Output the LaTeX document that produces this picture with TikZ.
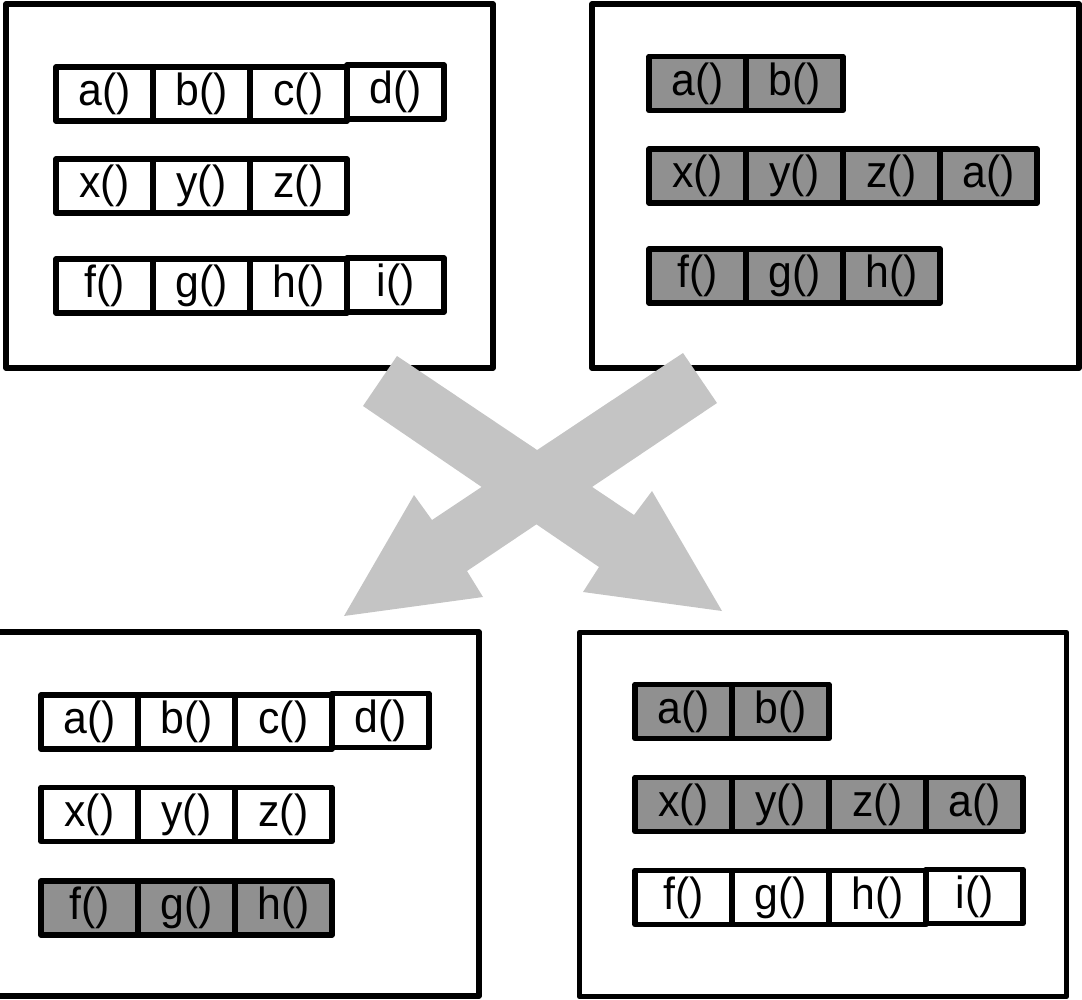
\documentclass[tikz,border=0pt]{standalone}
\usepackage{fontspec}
\setmainfont{Liberation Sans}
\definecolor{cellgray}{RGB}{144,144,144}
\definecolor{arrowgray}{RGB}{196,196,196}
\newcommand{\ct}[1]{\scalebox{0.95}[1]{#1}}
\begin{document}
\begin{tikzpicture}[x=1pt,y=-1pt,
  panel/.style={draw=black, line width=5.5pt, line join=round, minimum width=487pt, minimum height=364pt, inner sep=0pt, fill=white},
  cell/.style={draw=black, line width=5.5pt, line join=round, minimum width=97pt, minimum height=54pt, inner sep=0pt, fill=white, font=\fontsize{45}{45}\selectfont},
  gcell/.style={cell, fill=cellgray},
  bigarrow/.style={fill=arrowgray, draw=none}]
\useasboundingbox (0,0) rectangle (1082,999);

% panels
\node[panel] (tl) at (249.5,186) {};
\node[panel] (tr) at (835.5,186) {};
\node[panel] (bl) at (235.5,814) {};
\node[panel] (br) at (823,814.5) {};

% top-left panel
\node[cell] (tl-a) at (104.5,94) {\ct{a()}};
\node[cell] (tl-b) at (201.5,94) {\ct{b()}};
\node[cell] (tl-c) at (298.5,94) {\ct{c()}};
\node[cell] (tl-d) at (395.5,92) {\ct{d()}};
\node[cell] (tl-x) at (104.5,186) {\ct{x()}};
\node[cell] (tl-y) at (201.5,186) {\ct{y()}};
\node[cell] (tl-z) at (298.5,186) {\ct{z()}};
\node[cell] (tl-f) at (104.5,286) {\ct{f()}};
\node[cell] (tl-g) at (201.5,286) {\ct{g()}};
\node[cell] (tl-h) at (298.5,286) {\ct{h()}};
\node[cell] (tl-i) at (395.5,285) {\ct{i()}};

% top-right panel
\node[gcell] (tr-a) at (697.5,83.5) {\ct{a()}};
\node[gcell] (tr-b) at (794.5,83.5) {\ct{b()}};
\node[gcell] (tr-x) at (697.5,176) {\ct{x()}};
\node[gcell] (tr-y) at (794.5,176) {\ct{y()}};
\node[gcell] (tr-z) at (891.5,176) {\ct{z()}};
\node[gcell] (tr-a2) at (988.5,176) {\ct{a()}};
\node[gcell] (tr-f) at (697.5,276) {\ct{f()}};
\node[gcell] (tr-g) at (794.5,276) {\ct{g()}};
\node[gcell] (tr-h) at (891.5,276) {\ct{h()}};

% bottom-left panel
\node[cell] (bl-a) at (89.5,722) {\ct{a()}};
\node[cell] (bl-b) at (186.5,722) {\ct{b()}};
\node[cell] (bl-c) at (283.5,722) {\ct{c()}};
\node[cell] (bl-d) at (380.5,720.5) {\ct{d()}};
\node[cell] (bl-x) at (89.5,814.5) {\ct{x()}};
\node[cell] (bl-y) at (186.5,814.5) {\ct{y()}};
\node[cell] (bl-z) at (283.5,814.5) {\ct{z()}};
\node[gcell] (bl-f) at (89.5,908) {\ct{f()}};
\node[gcell] (bl-g) at (186.5,908) {\ct{g()}};
\node[gcell] (bl-h) at (283.5,908) {\ct{h()}};

% bottom-right panel
\node[gcell] (br-a) at (683.5,711.5) {\ct{a()}};
\node[gcell] (br-b) at (780.5,711.5) {\ct{b()}};
\node[gcell] (br-x) at (683.5,804.5) {\ct{x()}};
\node[gcell] (br-y) at (780.5,804.5) {\ct{y()}};
\node[gcell] (br-z) at (877.5,804.5) {\ct{z()}};
\node[gcell] (br-a2) at (974.5,804.5) {\ct{a()}};
\node[cell] (br-f) at (683.5,897.5) {\ct{f()}};
\node[cell] (br-g) at (780.5,897.5) {\ct{g()}};
\node[cell] (br-h) at (877.5,897.5) {\ct{h()}};
\node[cell] (br-i) at (974.5,896.5) {\ct{i()}};

% big crossing arrows
\fill[bigarrow] (397,356) -- (634,515) -- (652,491) -- (722,611) -- (583,592) -- (599,567) -- (363,406) -- cycle;
\fill[bigarrow] (683,353) -- (717,403) -- (467,571) -- (483,597) -- (344,616) -- (414,495) -- (432,520) -- cycle;
\end{tikzpicture}
\end{document}
